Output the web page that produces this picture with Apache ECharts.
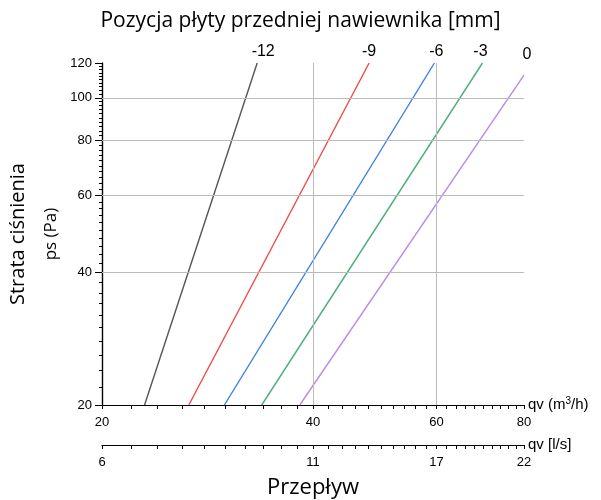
<!DOCTYPE html>
<html><head><meta charset="utf-8">
<script src="https://cdn.jsdelivr.net/npm/echarts@6/dist/echarts.min.js"></script>
<style>html,body{margin:0;padding:0;background:#fff}#c{width:601px;height:500px}</style>
</head><body><div id="c"></div>
<script>
// plate position labels (mm)
const positions = ['-12', '-9', '-6', '-3', '0'];
// flow (m3/h) at start and end of each characteristic line
const flowStart = [23.0, 26.6, 29.9, 33.8, 38.3];
const flowEnd = [33.3, 48.1, 59.6, 69.8, 80.0];
// pressure loss (Pa) at start and end of each line
const pressureStart = [20, 20, 20, 20, 20];
const pressureEnd = [120, 120, 120, 120, 112.6];
// axis ticks
const flowTicks = [20, 40, 60, 80];
const flowTickLabelsLs = ['6', '11', '17', '22'];
const pressureTicks = [20, 40, 60, 80, 100, 120];
const flowGridLines = [40, 60];
const pressureGridLines = [40, 60, 80, 100];

const colors = ['#555555', '#f04a4a', '#3a7fe0', '#4caf78', '#b68ce4'];
const labelOffsets = [[6, 0], [0, 0], [2, 0], [-2, 0], [3, -10]];

const flowMinor = [];
for (let v = 20; v <= 80; v += 2) flowMinor.push(v);
const pressureMinor = [];
for (let v = 20; v <= 120; v += 2) pressureMinor.push(v);

const sansA = 'Liberation Sans, Arial, sans-serif';
const sansB = 'Open Sans, Noto Sans, sans-serif';

const series = positions.map((p, i) => ({
  type: 'line',
  name: p,
  xAxisIndex: 0,
  yAxisIndex: 0,
  data: [[flowStart[i], pressureStart[i]], [flowEnd[i], pressureEnd[i]]],
  symbol: 'circle',
  symbolSize: 0,
  showSymbol: true,
  lineStyle: { color: colors[i], width: 1.4 },
  itemStyle: { color: colors[i] },
  label: {
    show: true,
    position: 'top',
    distance: 3,
    offset: labelOffsets[i],
    color: '#000',
    fontFamily: sansA,
    fontSize: 16,
    formatter: (prm) => prm.dataIndex === 1 ? p : ''
  },
  silent: true,
  animation: false,
  z: 3
}));

series.push({
  type: 'line',
  data: [],
  xAxisIndex: 0,
  yAxisIndex: 0,
  silent: true,
  animation: false,
  z: 1,
  markLine: {
    symbol: 'none',
    silent: true,
    animation: false,
    label: { show: false },
    lineStyle: { color: '#bbbbbb', width: 1, type: 'solid' },
    data: flowGridLines.map(v => ({ xAxis: v })).concat(pressureGridLines.map(v => ({ yAxis: v })))
  }
});

const fmtRound = v => String(Math.round(v));

const baseX = {
  type: 'log',
  logBase: 10,
  min: 20,
  max: 80,
  position: 'bottom',
  axisLine: { show: true, onZero: false, lineStyle: { color: '#000', width: 1.2 } },
  axisTick: { show: true, customValues: flowMinor, length: 4, lineStyle: { color: '#000' } },
  splitLine: { show: false },
  minorTick: { show: false },
  nameLocation: 'end',
  nameGap: 4,
  nameTextStyle: { color: '#000', fontFamily: sansA, fontSize: 15 }
};

const option = {
  backgroundColor: '#fff',
  animation: false,
  title: [
    { text: 'Pozycja płyty przedniej nawiewnika [mm]', left: 'center', top: 6,
      textStyle: { fontFamily: sansB, fontSize: 21, fontWeight: 'normal', color: '#000' } },
    { text: 'Przepływ', left: 262, top: 472,
      textStyle: { fontFamily: sansB, fontSize: 22, fontWeight: 'normal', color: '#000' } }
  ],
  grid: { left: 102, right: 77, top: 63, bottom: 95, containLabel: false, outerBoundsMode: 'none' },
  xAxis: [
    Object.assign({}, baseX, {
      offset: 0,
      name: 'qv (m{sup|3}/h)',
      nameTextStyle: { color: '#000', fontFamily: sansA, fontSize: 15,
        rich: { sup: { fontSize: 10, fontFamily: sansA, color: '#000', padding: [0, 0, 8, 0] } } },
      axisLabel: { customValues: flowTicks, formatter: fmtRound, color: '#000', fontFamily: sansA, fontSize: 13, margin: 11 }
    }),
    Object.assign({}, baseX, {
      offset: 40,
      name: 'qv [l/s]',
      axisLabel: { customValues: flowTicks,
        formatter: v => flowTickLabelsLs[flowTicks.indexOf(Math.round(v))] || '',
        color: '#000', fontFamily: sansA, fontSize: 13, margin: 11 }
    })
  ],
  yAxis: [
    {
      type: 'log', logBase: 10, min: 20, max: 120, position: 'left', offset: 0,
      axisLine: { show: true, onZero: false, lineStyle: { color: '#000', width: 1.2 } },
      axisTick: { show: true, customValues: pressureMinor, length: 3, lineStyle: { color: '#000' } },
      axisLabel: { show: false },
      splitLine: { show: false },
      name: 'Strata ciśnienia', nameLocation: 'middle', nameGap: 74, nameRotate: 90,
      nameTextStyle: { color: '#000', fontFamily: sansB, fontSize: 20 }
    },
    {
      type: 'log', logBase: 10, min: 20, max: 120, position: 'left', offset: 0,
      axisLine: { show: true, onZero: false, lineStyle: { color: '#000', width: 1.2 } },
      axisTick: { show: true, customValues: pressureTicks, length: 7, lineStyle: { color: '#000' } },
      axisLabel: { customValues: pressureTicks, formatter: fmtRound, color: '#000', fontFamily: sansA, fontSize: 13, margin: 10 },
      splitLine: { show: false },
      name: 'ps (Pa)', nameLocation: 'middle', nameGap: 35, nameRotate: 90,
      nameTextStyle: { color: '#000', fontFamily: sansB, fontSize: 17 }
    }
  ],
  series: series
};

const chart = echarts.init(document.getElementById('c'), null, { renderer: 'canvas' });
chart.setOption(option);
</script>
</body></html>
